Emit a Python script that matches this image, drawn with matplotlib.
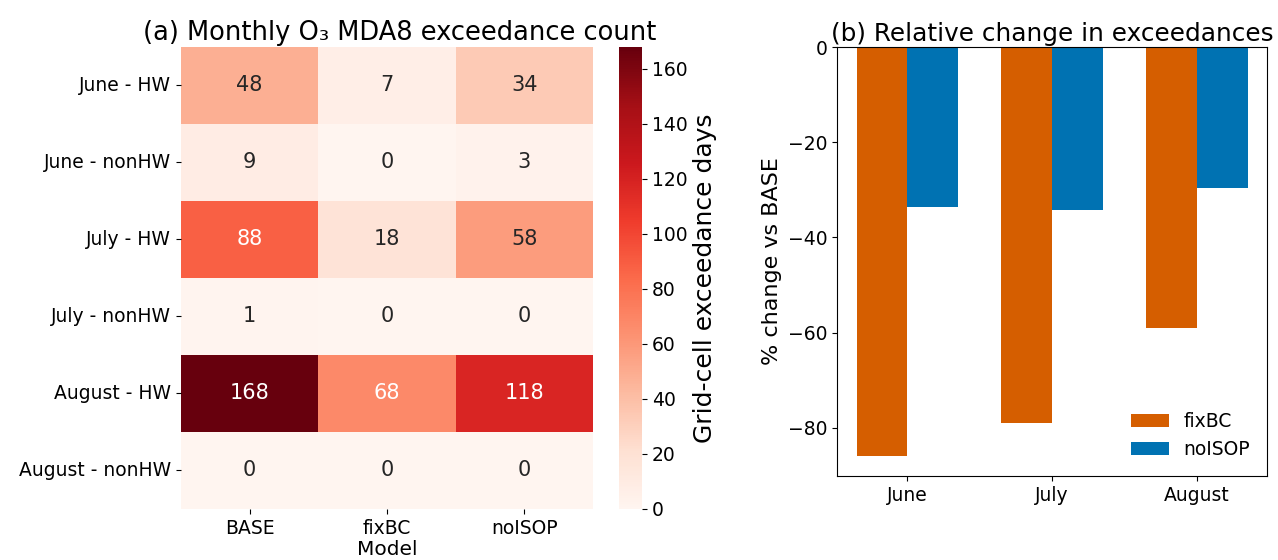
import matplotlib
matplotlib.use("Agg")
import matplotlib.pyplot as plt
import numpy as np
import pandas as pd
import seaborn as sns

rows = ["June - HW", "June - nonHW", "July - HW", "July - nonHW", "August - HW", "August - nonHW"]
models = ["BASE", "fixBC", "noISOP"]
base_counts = [48, 9, 88, 1, 168, 0]
fixbc_counts = [7, 0, 18, 0, 68, 0]
noisop_counts = [34, 3, 58, 0, 118, 0]

months = ["June", "July", "August"]
fixbc_change = [-85.8, -79.0, -59.0]
noisop_change = [-33.5, -34.2, -29.7]

plt.rcParams["font.family"] = ["DejaVu Sans"]

fig = plt.figure(figsize=(12.78, 5.6), dpi=100)
ax_h = fig.add_axes([0.1416, 0.0911, 0.3224, 0.825])
ax_c = fig.add_axes([0.4844, 0.0911, 0.018, 0.825])
ax_b = fig.add_axes([0.655, 0.15, 0.3365, 0.766])

df = pd.DataFrame({"BASE": base_counts, "fixBC": fixbc_counts, "noISOP": noisop_counts}, index=rows)
sns.heatmap(df, ax=ax_h, cbar_ax=ax_c, cmap="Reds", annot=True, fmt="d",
            annot_kws={"fontsize": 15}, vmin=0,
            cbar_kws={"label": "Grid-cell exceedance days"})
ax_h.set_title("(a) Monthly O\u2083 MDA8 exceedance count", fontsize=18.5, pad=5, x=0.53)
ax_h.set_xlabel("Model", fontsize=14.5, labelpad=2)
ax_h.set_ylabel("")
ax_h.tick_params(labelsize=13.5)
plt.setp(ax_h.get_yticklabels(), rotation=0)
ax_c.tick_params(labelsize=13.5)
ax_c.yaxis.label.set_size(18)

x = np.arange(len(months))
w = 0.35
ax_b.bar(x - w / 2, fixbc_change, width=w, color="#D55E00", label="fixBC")
ax_b.bar(x + w / 2, noisop_change, width=w, color="#0072B2", label="noISOP")
ax_b.set_ylim(top=0)
ax_b.set_xticks(x, months)
ax_b.set_ylabel("% change vs BASE", fontsize=16)
ax_b.set_title("(b) Relative change in exceedances", fontsize=17.8, pad=4)
ax_b.tick_params(labelsize=13.5)
ax_b.legend(loc="lower right", frameon=False, fontsize=13.5)

fig.savefig("out.png", dpi=100)
